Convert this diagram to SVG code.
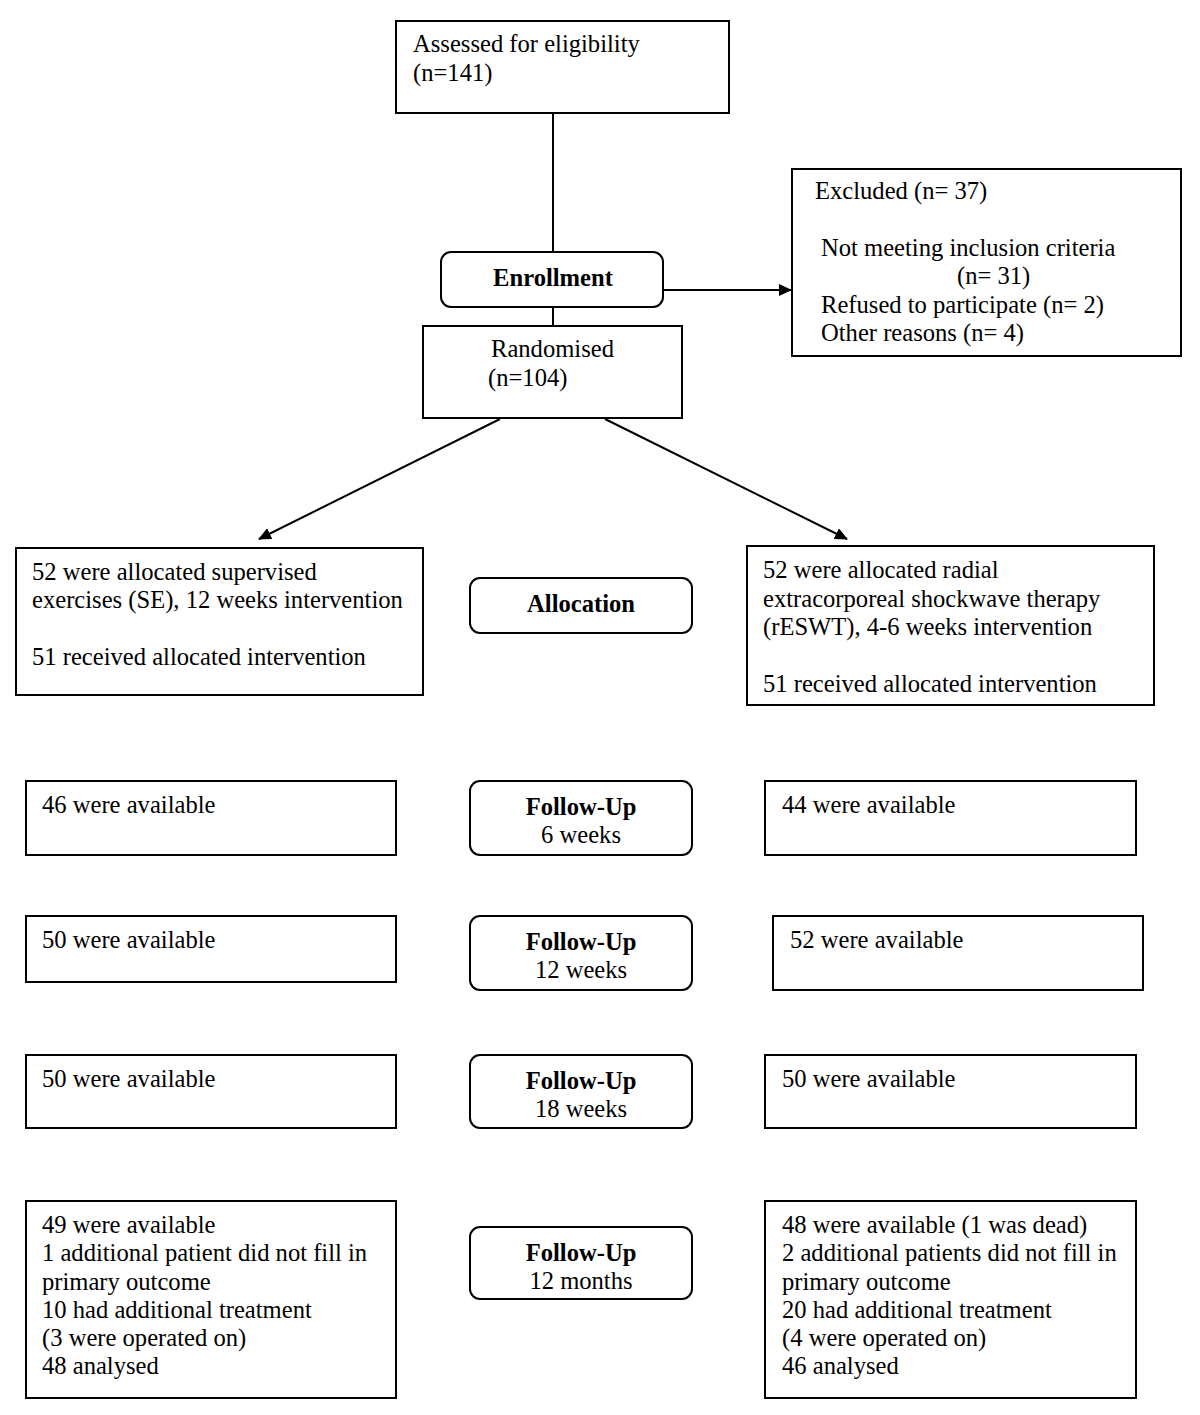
<svg xmlns="http://www.w3.org/2000/svg" width="1200" height="1415" viewBox="0 0 1200 1415">
<defs>
<style>
.box{fill:#fff;stroke:#000;stroke-width:2}
.t{font-family:"Liberation Serif","Times New Roman",serif;font-size:24.6px;fill:#000}
.b{font-weight:bold;text-anchor:middle}
.c{text-anchor:middle}
.ln{stroke:#000;stroke-width:2;fill:none}
</style>
<marker id="ah" markerWidth="13" markerHeight="12" refX="12" refY="6" orient="auto" markerUnits="userSpaceOnUse" viewBox="0 0 13 12">
<path d="M0,0 L13,6 L0,12 z" fill="#000"/>
</marker>
</defs>
<rect width="1200" height="1415" fill="#fff"/>
<g id="connectors">
<line class="ln" x1="553" y1="113" x2="553" y2="253"/>
<line class="ln" x1="553" y1="307" x2="553" y2="326"/>
<line class="ln" x1="663" y1="290" x2="791" y2="290" marker-end="url(#ah)"/>
<line class="ln" x1="500" y1="419" x2="259" y2="539" marker-end="url(#ah)"/>
<line class="ln" x1="605" y1="419" x2="847" y2="539" marker-end="url(#ah)"/>
</g>
<g id="assessed">
<rect class="box" x="396" y="21" width="333" height="92"/>
<text class="t" x="413" y="52">Assessed for eligibility</text>
<text class="t" x="413" y="81">(n=141)</text>
</g>
<g id="enrollment">
<rect class="box" x="441" y="252" width="222" height="55" rx="10"/>
<text class="t b" x="553" y="286">Enrollment</text>
</g>
<g id="randomised">
<rect class="box" x="423" y="326" width="259" height="92"/>
<text class="t" x="491" y="357">Randomised</text>
<text class="t" x="488" y="386">(n=104)</text>
</g>
<g id="excluded">
<rect class="box" x="792" y="169" width="389" height="187"/>
<text class="t" x="815" y="199">Excluded (n= 37)</text>
<text class="t" x="821" y="256">Not meeting inclusion criteria</text>
<text class="t" x="957" y="284">(n= 31)</text>
<text class="t" x="821" y="313">Refused to participate (n= 2)</text>
<text class="t" x="821" y="341">Other reasons (n= 4)</text>
</g>
<g id="alloc-se">
<rect class="box" x="16" y="548" width="407" height="147"/>
<text class="t" x="32" y="580">52 were allocated supervised</text>
<text class="t" x="32" y="608">exercises (SE), 12 weeks intervention</text>
<text class="t" x="32" y="665">51 received allocated intervention</text>
</g>
<g id="allocation">
<rect class="box" x="470" y="578" width="222" height="55" rx="10"/>
<text class="t b" x="581" y="612">Allocation</text>
</g>
<g id="alloc-reswt">
<rect class="box" x="747" y="546" width="407" height="159"/>
<text class="t" x="763" y="578">52 were allocated radial</text>
<text class="t" x="763" y="607">extracorporeal shockwave therapy</text>
<text class="t" x="763" y="635">(rESWT), 4-6 weeks intervention</text>
<text class="t" x="763" y="692">51 received allocated intervention</text>
</g>
<g id="fu6-se">
<rect class="box" x="26" y="781" width="370" height="74"/>
<text class="t" x="42" y="813">46 were available</text>
</g>
<g id="fu6">
<rect class="box" x="470" y="781" width="222" height="74" rx="10"/>
<text class="t b" x="581" y="815">Follow-Up</text>
<text class="t c" x="581" y="843">6 weeks</text>
</g>
<g id="fu6-reswt">
<rect class="box" x="765" y="781" width="371" height="74"/>
<text class="t" x="782" y="813">44 were available</text>
</g>
<g id="fu12w-se">
<rect class="box" x="26" y="916" width="370" height="66"/>
<text class="t" x="42" y="948">50 were available</text>
</g>
<g id="fu12w">
<rect class="box" x="470" y="916" width="222" height="74" rx="10"/>
<text class="t b" x="581" y="950">Follow-Up</text>
<text class="t c" x="581" y="978">12 weeks</text>
</g>
<g id="fu12w-reswt">
<rect class="box" x="773" y="916" width="370" height="74"/>
<text class="t" x="790" y="948">52 were available</text>
</g>
<g id="fu18-se">
<rect class="box" x="26" y="1055" width="370" height="73"/>
<text class="t" x="42" y="1087">50 were available</text>
</g>
<g id="fu18">
<rect class="box" x="470" y="1055" width="222" height="73" rx="10"/>
<text class="t b" x="581" y="1089">Follow-Up</text>
<text class="t c" x="581" y="1117">18 weeks</text>
</g>
<g id="fu18-reswt">
<rect class="box" x="765" y="1055" width="371" height="73"/>
<text class="t" x="782" y="1087">50 were available</text>
</g>
<g id="fu12m-se">
<rect class="box" x="26" y="1201" width="370" height="197"/>
<text class="t" x="42" y="1233">49 were available</text>
<text class="t" x="42" y="1261">1 additional patient did not fill in</text>
<text class="t" x="42" y="1290">primary outcome</text>
<text class="t" x="42" y="1318">10 had additional treatment</text>
<text class="t" x="42" y="1346">(3 were operated on)</text>
<text class="t" x="42" y="1374">48 analysed</text>
</g>
<g id="fu12m">
<rect class="box" x="470" y="1227" width="222" height="72" rx="10"/>
<text class="t b" x="581" y="1261">Follow-Up</text>
<text class="t c" x="581" y="1289">12 months</text>
</g>
<g id="fu12m-reswt">
<rect class="box" x="765" y="1201" width="371" height="197"/>
<text class="t" x="782" y="1233">48 were available (1 was dead)</text>
<text class="t" x="782" y="1261">2 additional patients did not fill in</text>
<text class="t" x="782" y="1290">primary outcome</text>
<text class="t" x="782" y="1318">20 had additional treatment</text>
<text class="t" x="782" y="1346">(4 were operated on)</text>
<text class="t" x="782" y="1374">46 analysed</text>
</g>
</svg>
